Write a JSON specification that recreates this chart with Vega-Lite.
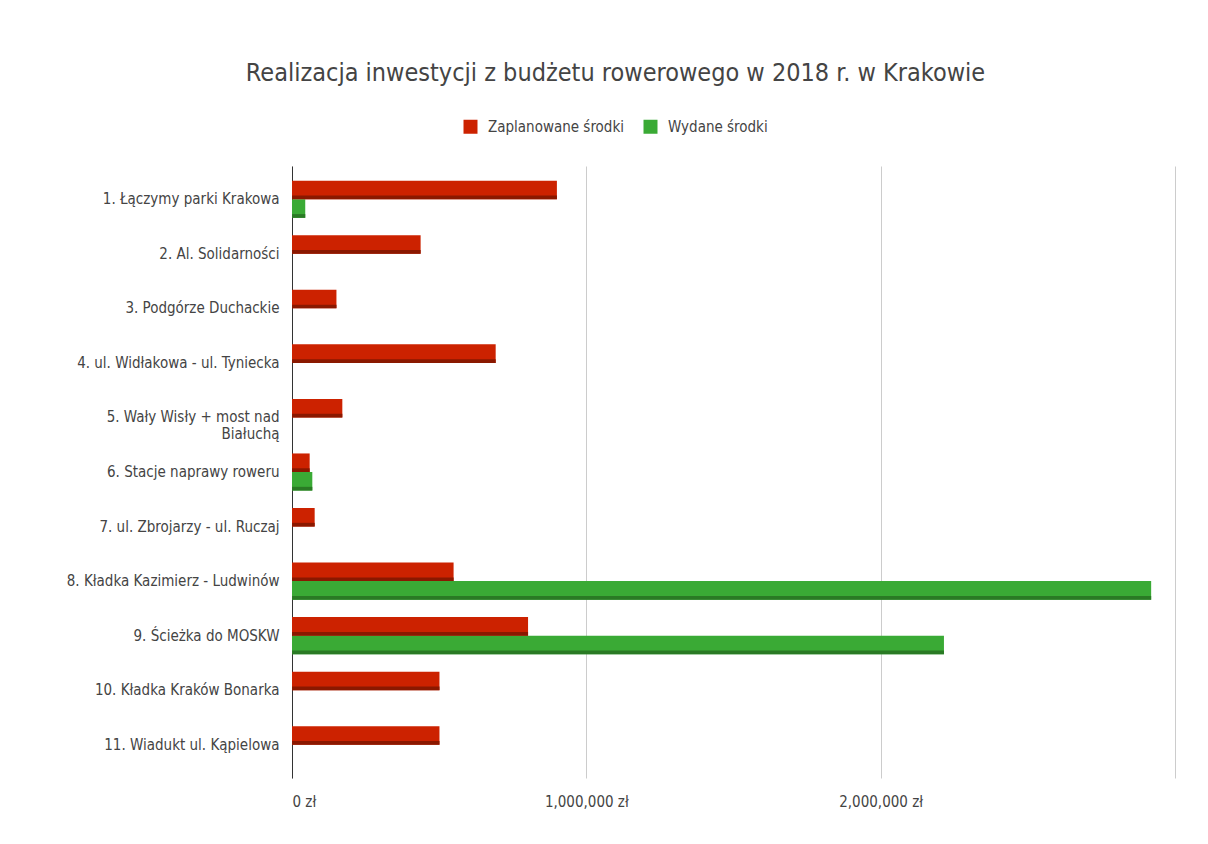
{
  "$schema": "https://vega.github.io/schema/vega-lite/v6.json",
  "autosize": {"type": "none"},
  "width": 883,
  "height": 612,
  "padding": {"left": 292, "top": 166, "right": 33, "bottom": 66},
  "background": "#ffffff",
  "title": {
    "text": "Realizacja inwestycji z budżetu rowerowego w 2018 r. w Krakowie",
    "anchor": "middle",
    "dx": -118,
    "offset": 33,
    "fontSize": 25,
    "fontWeight": "normal",
    "font": "DejaVu Sans Condensed",
    "color": "#444444"
  },
  "data": {
    "values": [
      {"projekt": "1. Łączymy parki Krakowa", "seria": "Zaplanowane środki", "kwota": 900000},
      {"projekt": "1. Łączymy parki Krakowa", "seria": "Wydane środki", "kwota": 45000},
      {"projekt": "2. Al. Solidarności", "seria": "Zaplanowane środki", "kwota": 437000},
      {"projekt": "2. Al. Solidarności", "seria": "Wydane środki", "kwota": 0},
      {"projekt": "3. Podgórze Duchackie", "seria": "Zaplanowane środki", "kwota": 151000},
      {"projekt": "3. Podgórze Duchackie", "seria": "Wydane środki", "kwota": 0},
      {"projekt": "4. ul. Widłakowa - ul. Tyniecka", "seria": "Zaplanowane środki", "kwota": 692000},
      {"projekt": "4. ul. Widłakowa - ul. Tyniecka", "seria": "Wydane środki", "kwota": 0},
      {"projekt": "5. Wały Wisły + most nad Białuchą", "seria": "Zaplanowane środki", "kwota": 171000},
      {"projekt": "5. Wały Wisły + most nad Białuchą", "seria": "Wydane środki", "kwota": 0},
      {"projekt": "6. Stacje naprawy roweru", "seria": "Zaplanowane środki", "kwota": 60000},
      {"projekt": "6. Stacje naprawy roweru", "seria": "Wydane środki", "kwota": 69000},
      {"projekt": "7. ul. Zbrojarzy - ul. Ruczaj", "seria": "Zaplanowane środki", "kwota": 77000},
      {"projekt": "7. ul. Zbrojarzy - ul. Ruczaj", "seria": "Wydane środki", "kwota": 0},
      {"projekt": "8. Kładka Kazimierz - Ludwinów", "seria": "Zaplanowane środki", "kwota": 549000},
      {"projekt": "8. Kładka Kazimierz - Ludwinów", "seria": "Wydane środki", "kwota": 2919000},
      {"projekt": "9. Ścieżka do MOSKW", "seria": "Zaplanowane środki", "kwota": 802000},
      {"projekt": "9. Ścieżka do MOSKW", "seria": "Wydane środki", "kwota": 2215000},
      {"projekt": "10. Kładka Kraków Bonarka", "seria": "Zaplanowane środki", "kwota": 501000},
      {"projekt": "10. Kładka Kraków Bonarka", "seria": "Wydane środki", "kwota": 0},
      {"projekt": "11. Wiadukt ul. Kąpielowa", "seria": "Zaplanowane środki", "kwota": 501000},
      {"projekt": "11. Wiadukt ul. Kąpielowa", "seria": "Wydane środki", "kwota": 0}
    ]
  },
  "encoding": {
    "y": {
      "field": "projekt",
      "type": "nominal",
      "sort": null,
      "scale": {"paddingInner": 0.32, "paddingOuter": 0.27},
      "axis": {
        "title": null,
        "ticks": false,
        "labelPadding": 13,
        "labelFontSize": 15,
        "labelFont": "DejaVu Sans Condensed",
        "labelColor": "#444444",
        "labelLimit": 300,
        "domainColor": "#333333",
        "labelExpr": "datum.value == '5. Wały Wisły + most nad Białuchą' ? ['5. Wały Wisły + most nad', 'Białuchą'] : datum.value"
      }
    },
    "yOffset": {
      "field": "seria",
      "type": "nominal",
      "sort": ["Zaplanowane środki", "Wydane środki"],
      "scale": {"paddingInner": 0}
    },
    "x": {
      "field": "kwota",
      "type": "quantitative",
      "scale": {"domain": [0, 3000000], "nice": false},
      "axis": {
        "title": null,
        "values": [0, 1000000, 2000000, 3000000],
        "labelExpr": "datum.value >= 3000000 ? '' : format(datum.value, ',') + ' zł'",
        "ticks": false,
        "domain": false,
        "grid": true,
        "gridColor": "#cccccc",
        "labelPadding": 16,
        "labelFontSize": 15,
        "labelFont": "DejaVu Sans Condensed",
        "labelColor": "#444444"
      }
    }
  },
  "layer": [
    {
      "mark": {"type": "bar"},
      "encoding": {
        "color": {
          "field": "seria",
          "type": "nominal",
          "scale": {"domain": ["Zaplanowane środki", "Wydane środki"], "range": ["#cc2200", "#3aaa35"]},
          "legend": {
            "title": null,
            "orient": "none",
            "direction": "horizontal",
            "legendX": 171,
            "legendY": -47,
            "symbolType": "square",
            "symbolSize": 196,
            "symbolStrokeWidth": 0,
            "labelFontSize": 15,
            "labelFont": "DejaVu Sans Condensed",
            "labelColor": "#444444",
            "labelOffset": 10,
            "columnPadding": 19
          }
        }
      }
    },
    {
      "mark": {"type": "bar", "height": {"band": 0.2}},
      "encoding": {
        "color": {
          "field": "seria",
          "type": "nominal",
          "scale": {"domain": ["Zaplanowane środki", "Wydane środki"], "range": ["#8a1800", "#2a7a24"]},
          "legend": null
        }
      }
    }
  ],
  "resolve": {"scale": {"color": "independent"}},
  "config": {
    "view": {"stroke": null},
    "axisY": {"grid": false}
  }
}
